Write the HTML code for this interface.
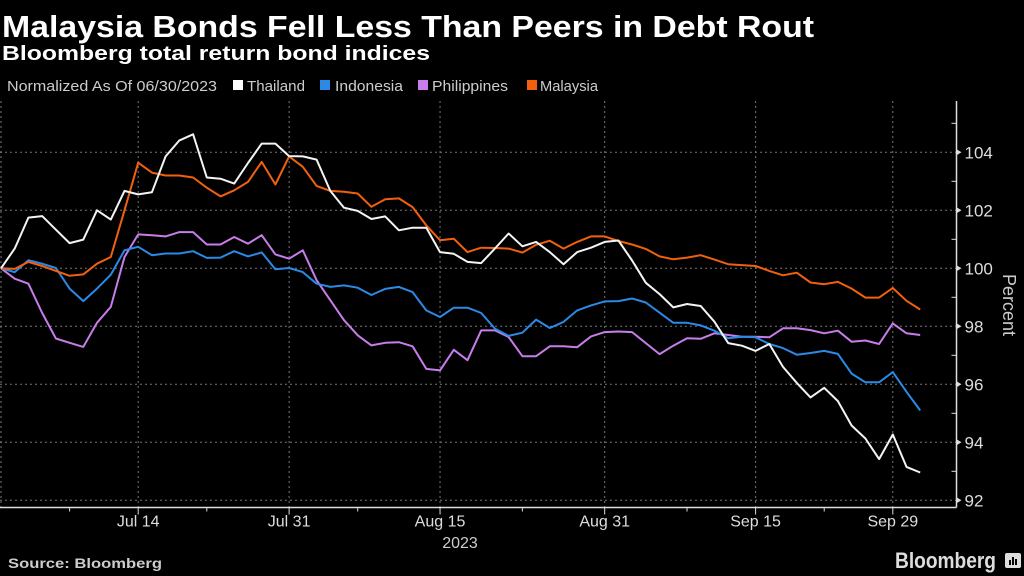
<!DOCTYPE html>
<html><head><meta charset="utf-8"><style>
html,body{margin:0;padding:0;background:#000;width:1024px;height:576px;overflow:hidden}
svg{display:block;font-family:"Liberation Sans",sans-serif}
</style></head><body>
<svg id="chart" width="1024" height="576" viewBox="0 0 1024 576">
<text x="2" y="37" fill="#fff" font-size="31" font-weight="bold" textLength="812" lengthAdjust="spacingAndGlyphs">Malaysia Bonds Fell Less Than Peers in Debt Rout</text>
<text x="2" y="60" fill="#fff" font-size="20" font-weight="bold" textLength="428" lengthAdjust="spacingAndGlyphs">Bloomberg total return bond indices</text>
<g font-size="15" fill="#ccc">
<text x="7" y="91" textLength="210" lengthAdjust="spacingAndGlyphs">Normalized As Of 06/30/2023</text>
<g><rect x="233" y="80" width="10" height="10" fill="#fff"/><text x="247" y="91" textLength="58" lengthAdjust="spacingAndGlyphs">Thailand</text></g>
<g><rect x="320" y="80" width="10" height="10" fill="#2a8ae6"/><text x="335" y="91" textLength="68" lengthAdjust="spacingAndGlyphs">Indonesia</text></g>
<g><rect x="418" y="80" width="10" height="10" fill="#c77dea"/><text x="432" y="91" textLength="76" lengthAdjust="spacingAndGlyphs">Philippines</text></g>
<g><rect x="527" y="80" width="10" height="10" fill="#f2600e"/><text x="540" y="91" textLength="58" lengthAdjust="spacingAndGlyphs">Malaysia</text></g>
</g>
<g id="grid"></g>
<g id="axes"></g>
<g id="series"></g>
<text x="460" y="548" fill="#ccc" font-size="16" text-anchor="middle">2023</text>
<text transform="translate(1003,305) rotate(90)" fill="#ccc" font-size="18" text-anchor="middle">Percent</text>
<text x="8" y="568" fill="#ccc" font-size="14" font-weight="bold" textLength="154" lengthAdjust="spacingAndGlyphs">Source: Bloomberg</text>
<text x="895" y="568" fill="#ddd" font-size="22" font-weight="bold" textLength="101" lengthAdjust="spacingAndGlyphs">Bloomberg</text>
<g><rect x="1005" y="553" width="16" height="15" rx="2" fill="#ddd"/><rect x="1009" y="560" width="2" height="5" fill="#000"/><rect x="1012" y="557" width="2" height="8" fill="#000"/><rect x="1015" y="559" width="2" height="6" fill="#000"/></g>
</svg>
<script>
const xTickLabels = ["Jul 14","Jul 31","Aug 15","Aug 31","Sep 15","Sep 29"];
const xTickIdx = [10,21,32,44,55,65];
const xMinorIdx = [5,15,26,38,50,60];
const yTicks = [92,94,96,98,100,102,104];
const thailand = [100,100.68,101.75,101.8,101.33,100.87,100.99,102.0,101.68,102.67,102.55,102.62,103.86,104.41,104.62,103.13,103.09,102.92,103.63,104.3,104.3,103.87,103.86,103.75,102.67,102.09,101.98,101.7,101.79,101.31,101.4,101.4,100.56,100.5,100.22,100.18,100.68,101.2,100.76,100.91,100.56,100.14,100.56,100.71,100.91,100.96,100.27,99.5,99.11,98.65,98.77,98.7,98.16,97.42,97.33,97.15,97.39,96.6,96.05,95.55,95.88,95.42,94.58,94.13,93.42,94.27,93.15,92.96];
const indonesia = [100,99.87,100.28,100.16,100.01,99.3,98.87,99.3,99.78,100.62,100.74,100.45,100.51,100.51,100.59,100.36,100.37,100.59,100.41,100.55,99.97,100.01,99.87,99.47,99.36,99.41,99.33,99.08,99.29,99.36,99.18,98.55,98.32,98.64,98.64,98.46,97.92,97.67,97.78,98.23,97.94,98.15,98.55,98.72,98.86,98.87,98.96,98.82,98.47,98.12,98.12,98.03,97.85,97.59,97.64,97.62,97.39,97.25,97.02,97.08,97.15,97.05,96.37,96.07,96.07,96.42,95.74,95.1];
const philippines = [100,99.64,99.47,98.46,97.58,97.43,97.29,98.12,98.67,100.39,101.17,101.14,101.1,101.25,101.25,100.82,100.82,101.08,100.85,101.14,100.48,100.33,100.62,99.59,98.9,98.21,97.69,97.34,97.43,97.45,97.31,96.53,96.48,97.19,96.83,97.86,97.86,97.63,96.97,96.97,97.31,97.31,97.28,97.65,97.8,97.82,97.8,97.42,97.04,97.33,97.59,97.57,97.76,97.7,97.64,97.64,97.62,97.93,97.93,97.87,97.76,97.85,97.47,97.51,97.39,98.1,97.76,97.7];
const malaysia = [100,99.98,100.22,100.08,99.91,99.74,99.79,100.16,100.39,102.0,103.64,103.3,103.2,103.2,103.13,102.78,102.48,102.69,102.98,103.67,102.89,103.86,103.5,102.84,102.67,102.64,102.58,102.12,102.38,102.41,102.11,101.48,100.97,101.02,100.56,100.71,100.7,100.68,100.54,100.81,100.95,100.68,100.91,101.1,101.1,100.94,100.82,100.67,100.41,100.31,100.37,100.45,100.3,100.14,100.11,100.08,99.91,99.76,99.85,99.51,99.45,99.53,99.3,98.99,98.99,99.32,98.88,98.58];

const NS="http://www.w3.org/2000/svg";
const xS = i => 1 + i*13.72;
const yS = v => 268.3 - (v-100)*29;
const AX = 956.5, AY = 507.5;
function mk(tag, attrs, parent){const e=document.createElementNS(NS,tag);for(const k in attrs)e.setAttribute(k,attrs[k]);parent.appendChild(e);return e;}
const grid=document.getElementById('grid'), axes=document.getElementById('axes'), series=document.getElementById('series');
yTicks.forEach(v=>{
  const g=mk('line',{x1:0,x2:AX,y1:yS(v),y2:yS(v),stroke:'#777','stroke-width':1,'stroke-dasharray':'2,3'},grid);
  
  
  const t=mk('path',{d:`M${AX} ${yS(v)-3} L${AX+5} ${yS(v)} L${AX} ${yS(v)+3}Z`,fill:'#ddd'},axes);
  
  
  const m=mk('line',{x1:AX-5,x2:AX,y1:yS(v+1),y2:yS(v+1),stroke:'#ddd','stroke-width':1},axes);
  
  
  const l=mk('text',{x:AX+8,y:yS(v)+6,fill:'#ddd','font-size':17},axes);
  l.textContent=String(v);
  
  
});
[0].concat(xTickIdx).forEach((i,k)=>{
  const g=mk('line',{x1:xS(i),x2:xS(i),y1:101,y2:AY,stroke:'#777','stroke-width':1,'stroke-dasharray':'2,3'},grid);
  
  
});
xTickIdx.forEach((i,k)=>{
  const t=mk('line',{x1:xS(i),x2:xS(i),y1:AY,y2:AY+7,stroke:'#ddd','stroke-width':1},axes);
  
  
  const l=mk('text',{x:xS(i),y:AY+19,fill:'#ddd','font-size':16,'text-anchor':'middle'},axes);
  l.textContent=xTickLabels[k];
  
  
});
xMinorIdx.forEach(i=>{
  const t=mk('line',{x1:xS(i),x2:xS(i),y1:AY,y2:AY+4,stroke:'#ddd','stroke-width':1},axes);
  
  
});
const ax1=mk('line',{x1:0,x2:AX,y1:AY,y2:AY,stroke:'#ddd','stroke-width':1.5},axes);


const ax2=mk('line',{x1:AX,x2:AX,y1:101,y2:AY,stroke:'#ddd','stroke-width':1.5},axes);


const S=[[philippines,'#c77dea','line-philippines'],[indonesia,'#2a8ae6','line-indonesia'],[malaysia,'#f2600e','line-malaysia'],[thailand,'#f4f4f4','line-thailand']];
S.forEach(([d,c,n])=>{
  const p=mk('polyline',{points:d.map((v,i)=>xS(i).toFixed(1)+','+yS(v).toFixed(1)).join(' '),fill:'none',stroke:c,'stroke-width':2,'stroke-linejoin':'round'},series);
  
  
});
</script>
</body></html>
